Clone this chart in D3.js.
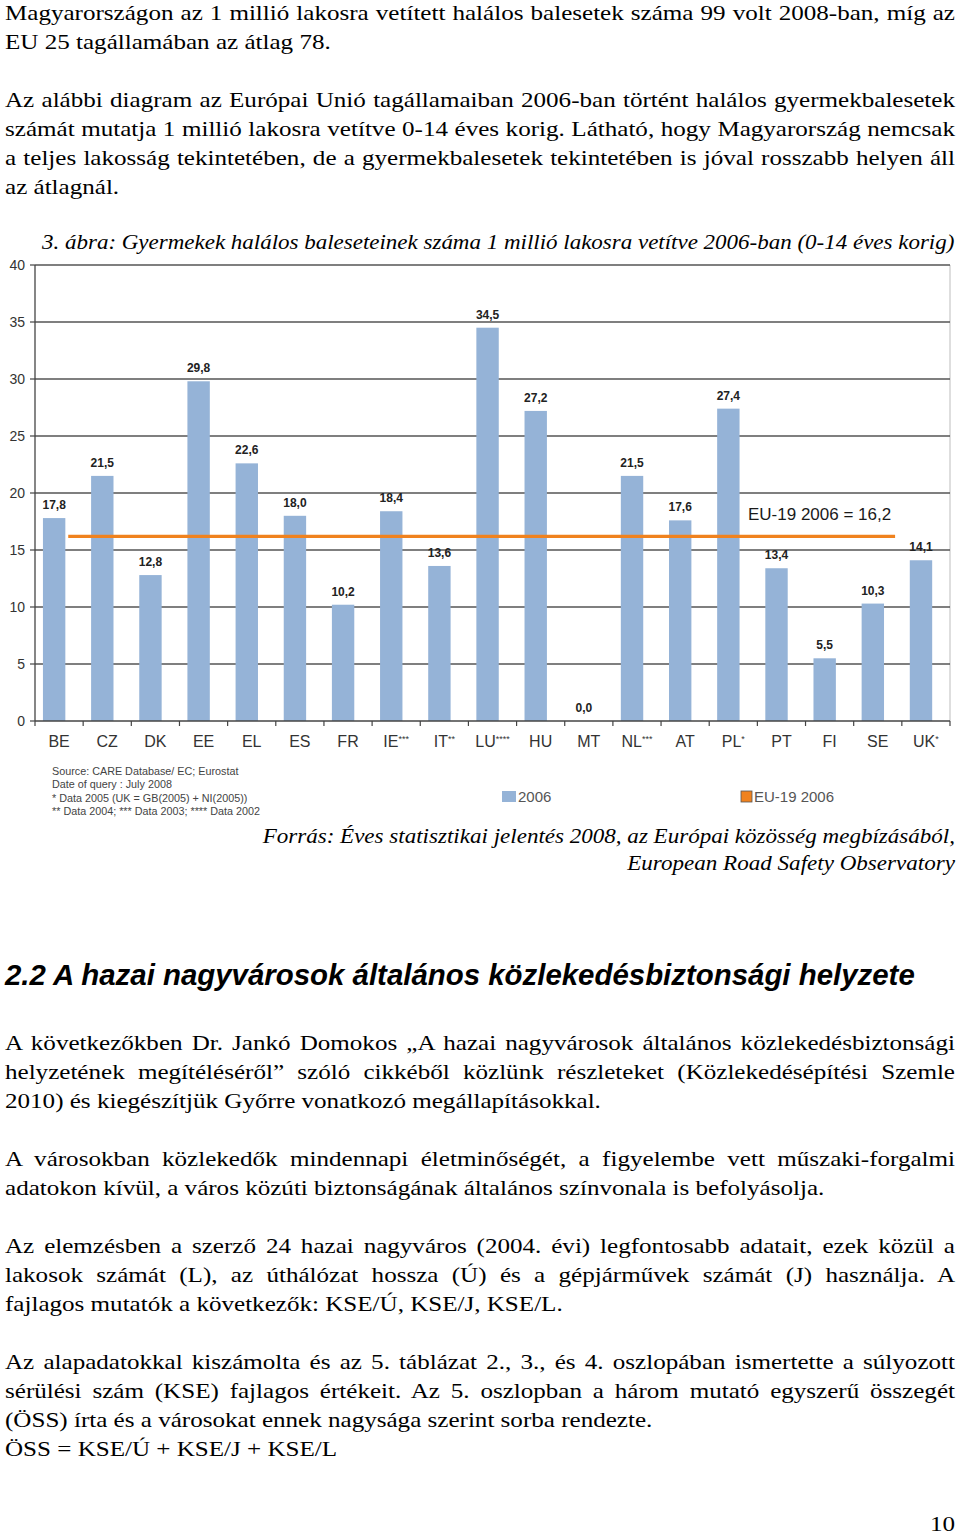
<!DOCTYPE html>
<html><head><meta charset="utf-8">
<script src="https://cdn.jsdelivr.net/npm/d3@7"></script>
<style>body{margin:0;background:#fff}svg{display:block}</style>
</head><body>
<script>
// ---------- DATA ----------
const categories = ["BE","CZ","DK","EE","EL","ES","FR","IE***","IT**","LU****","HU","MT","NL***","AT","PL*","PT","FI","SE","UK*"];
const values2006 = [17.8,21.5,12.8,29.8,22.6,18.0,10.2,18.4,13.6,34.5,27.2,0.0,21.5,17.6,27.4,13.4,5.5,10.3,14.1];
const eu19Average = 16.2;
const yTicks = [0,5,10,15,20,25,30,35,40];
const legendLabels = ["2006","EU-19 2006"];
const avgLabel = "EU-19 2006 = 16,2";
const chartTitle = "3. ábra: Gyermekek halálos baleseteinek száma 1 millió lakosra vetítve 2006-ban (0-14 éves korig)";
const footnotes = ["Source: CARE Database/ EC; Eurostat","Date of query : July 2008","* Data 2005 (UK = GB(2005) + NI(2005))","** Data 2004; *** Data 2003; **** Data 2002"];
const sourceLines = ["Forrás: Éves statisztikai jelentés 2008, az Európai közösség megbízásából,","European Road Safety Observatory"];
const topParagraph = [
  ["Magyarországon az 1 millió lakosra vetített halálos balesetek száma 99 volt 2008-ban, míg az", true],
  ["EU 25 tagállamában az átlag 78.", false],
  null,
  ["Az alábbi diagram az Európai Unió tagállamaiban 2006-ban történt halálos gyermekbalesetek", true],
  ["számát mutatja 1 millió lakosra vetítve 0-14 éves korig. Látható, hogy Magyarország nemcsak", true],
  ["a teljes lakosság tekintetében, de a gyermekbalesetek tekintetében is jóval rosszabb helyen áll", true],
  ["az átlagnál.", false]
];
const heading = "2.2 A hazai nagyvárosok általános közlekedésbiztonsági helyzete";
const bottomText = [
  ["A következőkben Dr. Jankó Domokos „A hazai nagyvárosok általános közlekedésbiztonsági", true],
  ["helyzetének megítéléséről” szóló cikkéből közlünk részleteket (Közlekedésépítési Szemle", true],
  ["2010) és kiegészítjük Győrre vonatkozó megállapításokkal.", false],
  null,
  ["A városokban közlekedők mindennapi életminőségét, a figyelembe vett műszaki-forgalmi", true],
  ["adatokon kívül, a város közúti biztonságának általános színvonala is befolyásolja.", false],
  null,
  ["Az elemzésben a szerző 24 hazai nagyváros (2004. évi) legfontosabb adatait, ezek közül a", true],
  ["lakosok számát (L), az úthálózat hossza (Ú) és a gépjárművek számát (J) használja. A", true],
  ["fajlagos mutatók a következők: KSE/Ú, KSE/J, KSE/L.", false],
  null,
  ["Az alapadatokkal kiszámolta és az 5. táblázat 2., 3., és 4. oszlopában ismertette a súlyozott", true],
  ["sérülési szám (KSE) fajlagos értékeit. Az 5. oszlopban a három mutató egyszerű összegét", true],
  ["(ÖSS) írta és a városokat ennek nagysága szerint sorba rendezte.", false],
  ["ÖSS = KSE/Ú + KSE/J + KSE/L", false]
];
const pageNumber = "10";

// ---------- RENDER ----------
const W = 960, H = 1537;
const svg = d3.select("body").append("svg").attr("width", W).attr("height", H);
const serif = "'Liberation Serif','Times New Roman',serif";
const sans = "'Liberation Sans',Arial,sans-serif";
const textL = 5, textR = 955, lineH = 29, bodySize = 22, sxBody = 1.14;

function stretched(px, py, sx) {
  return svg.append("text").attr("transform", `translate(${px},${py}) scale(${sx},1)`);
}

function drawLines(lines, y0) {
  lines.forEach((ln, i) => {
    if (!ln) return;
    const t = stretched(textL, y0 + i * lineH, sxBody)
      .attr("font-family", serif).attr("font-size", bodySize).attr("fill", "#000").text(ln[0]);
    if (ln[1]) {
      const nat = t.node().getComputedTextLength();
      const spaces = (ln[0].match(/ /g) || []).length;
      if (spaces) t.attr("word-spacing", ((textR - textL) / sxBody - nat) / spaces);
    }
  });
}
drawLines(topParagraph, 19.7);

// title (fit horizontally)
{
  const t = svg.append("text").attr("font-family", serif).attr("font-style", "italic")
    .attr("font-size", 20.5).attr("fill", "#000").text(chartTitle);
  const w = t.node().getComputedTextLength();
  t.attr("transform", `translate(42,249) scale(${(955 - 42) / w},1)`);
}

// chart
const x = d3.scaleBand().domain(categories).range([35, 950]).padding(0);
const y = d3.scaleLinear().domain([0, 40]).range([721, 265]);
const bw = x.bandwidth();
const g = svg.append("g");

g.append("line").attr("x1", 950).attr("x2", 950).attr("y1", y(40)).attr("y2", y(0)).attr("stroke", "#c8c8c8").attr("stroke-width", 1.2);

g.selectAll(".grid").data(yTicks.filter(d => d > 0)).join("line")
  .attr("x1", 35).attr("x2", 950).attr("y1", d => y(d)).attr("y2", d => y(d))
  .attr("stroke", "#555").attr("stroke-width", 1.3);

const data = categories.map((c, i) => ({ c, v: values2006[i] }));
g.selectAll(".bar").data(data).join("rect")
  .attr("x", d => x(d.c) + bw * 0.165).attr("width", bw * 0.465)
  .attr("y", d => y(d.v)).attr("height", d => y(0) - y(d.v))
  .attr("fill", "#95b3d7");

const fmt = v => d3.format(".1f")(v).replace(".", ",");
g.selectAll(".vl").data(data).join("text")
  .attr("x", d => x(d.c) + bw * 0.165 + bw * 0.465 / 2).attr("y", d => y(d.v) - 9)
  .attr("text-anchor", "middle").attr("font-family", sans).attr("font-weight", "bold")
  .attr("font-size", 12).attr("fill", "#222").text(d => fmt(d.v));

g.append("line")
  .attr("x1", x(categories[0]) + bw * 0.69).attr("x2", x(categories[17]) + bw * 0.86)
  .attr("y1", y(eu19Average)).attr("y2", y(eu19Average))
  .attr("stroke", "#f0821e").attr("stroke-width", 3.2);
g.append("text").attr("x", 748).attr("y", y(eu19Average) - 16)
  .attr("font-family", sans).attr("font-size", 17).attr("fill", "#1a1a1a").text(avgLabel);

g.append("line").attr("x1", 35).attr("x2", 35).attr("y1", y(40)).attr("y2", y(0)).attr("stroke", "#444").attr("stroke-width", 1.3);
g.append("line").attr("x1", 35).attr("x2", 950).attr("y1", y(0)).attr("y2", y(0)).attr("stroke", "#444").attr("stroke-width", 1.3);
g.selectAll(".yt").data(yTicks).join("line")
  .attr("x1", 30).attr("x2", 35).attr("y1", d => y(d)).attr("y2", d => y(d)).attr("stroke", "#444").attr("stroke-width", 1.2);
g.selectAll(".yl").data(yTicks).join("text")
  .attr("x", 25).attr("y", d => y(d) + 5).attr("text-anchor", "end")
  .attr("font-family", sans).attr("font-size", 14).attr("fill", "#333").text(d => d);
g.selectAll(".xt").data(categories.map(c => x(c)).concat([950])).join("line")
  .attr("x1", d => d).attr("x2", d => d).attr("y1", y(0)).attr("y2", y(0) + 5).attr("stroke", "#444").attr("stroke-width", 1.2);
const xl = g.selectAll(".xl").data(categories).join("text")
  .attr("x", d => x(d) + bw / 2).attr("y", 747).attr("text-anchor", "middle")
  .attr("font-family", sans).attr("font-size", 16).attr("fill", "#333");
xl.each(function (d) {
  const m = d.match(/^([A-Z]+)(\**)$/);
  const t = d3.select(this);
  t.append("tspan").text(m[1]);
  if (m[2]) t.append("tspan").attr("font-size", 9).attr("dy", -5).text(m[2]);
});

// footnotes
footnotes.forEach((f, i) => {
  g.append("text").attr("transform", `translate(52,${775 + i * 13.3}) scale(1.08,1)`)
    .attr("font-family", sans).attr("font-size", 10).attr("fill", "#444").text(f);
});

// legend
const lg = [{ x: 502, c: "#95b3d7", s: "none" }, { x: 741, c: "#f0821e", s: "#555" }];
lg.forEach((l, i) => {
  g.append("rect").attr("x", l.x).attr("y", 791).attr("width", i ? 11 : 14).attr("height", 11)
    .attr("fill", l.c).attr("stroke", l.s).attr("stroke-width", 0.8);
  g.append("text").attr("x", l.x + (i ? 13 : 16)).attr("y", 802).attr("font-family", sans)
    .attr("font-size", 15).attr("fill", "#555").text(legendLabels[i]);
});

// source
const srcLeft = [262, 627];
sourceLines.forEach((s, i) => {
  const t = svg.append("text").attr("text-anchor", "end")
    .attr("font-family", serif).attr("font-style", "italic").attr("font-size", 20.5).attr("fill", "#000").text(s);
  const w = t.node().getComputedTextLength();
  t.attr("transform", `translate(955,${843 + i * 27}) scale(${(955 - srcLeft[i]) / w},1)`);
});

// heading
const hd = svg.append("text").attr("x", 5).attr("y", 985)
  .attr("font-family", sans).attr("font-style", "italic").attr("font-weight", "bold")
  .attr("font-size", 27).attr("fill", "#000").text(heading);
{ const w = hd.node().getComputedTextLength(); hd.attr("font-size", 27 * (915 - 5) / w); }

drawLines(bottomText, 1050);

stretched(955, 1531, sxBody).attr("text-anchor", "end")
  .attr("font-family", serif).attr("font-size", bodySize).attr("fill", "#000").text(pageNumber);
</script>
</body></html>
